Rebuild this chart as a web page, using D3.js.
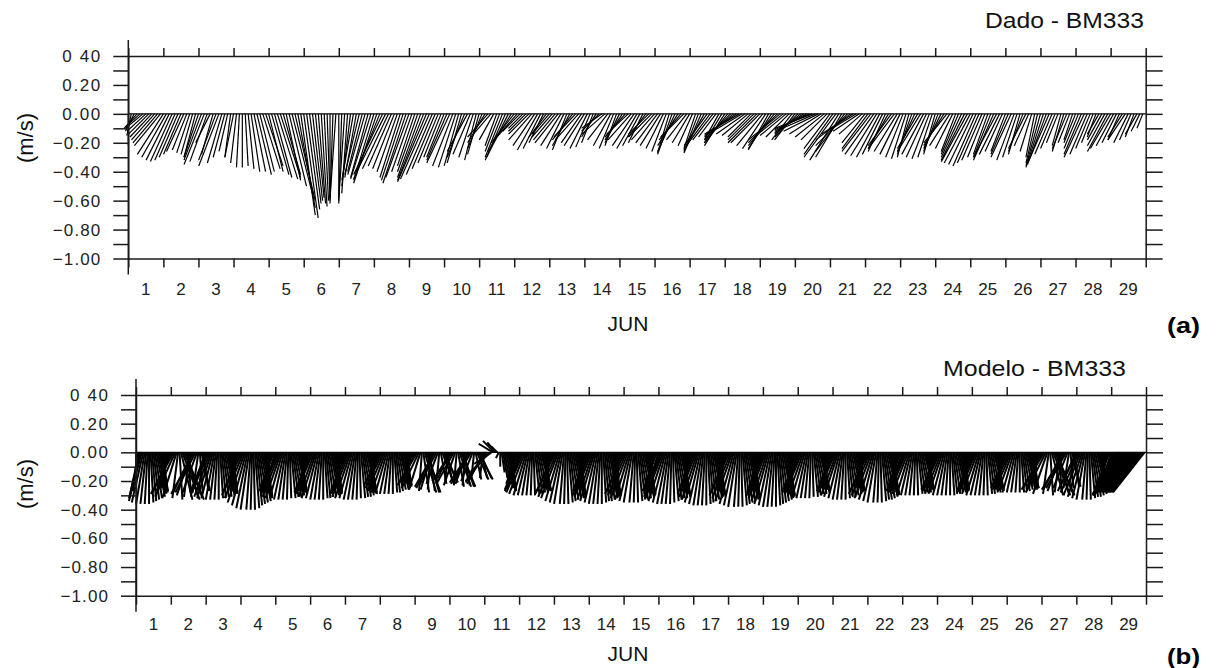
<!DOCTYPE html>
<html><head><meta charset="utf-8">
<script src="https://cdn.jsdelivr.net/npm/d3@7"></script>
<style>body{margin:0;background:#fff}svg{display:block}</style>
</head><body><svg id="c" width="1217" height="668"></svg>
<script>
// ---------------- DATA ----------------
const dayLabels = d3.range(1, 30).map(String);            // 1..29
const yTickValues = [0.4, 0.2, 0, -0.2, -0.4, -0.6, -0.8, -1.0];
const yTickLabels = ["0 40", "0.20", "0.00", "\u22120.20", "\u22120.40", "\u22120.60", "\u22120.80", "\u22121.00"];
const monthLabel = "JUN";
const unitLabel = "(m/s)";
const titles = ["Dado - BM333", "Modelo - BM333"];
const panelTags = ["(a)", "(b)"];

// Observed (Dado) current components, cm/s, every 2 h from 1 Jun 00h
const dadoU = [
0,-3,-6,-9,-10,-12,-13,-14,-15,-16,-17,-18,
-18,-17,-16,-15,-14,-13,-12,-12,-10,-9,-8,-8,
-10,-12,-14,-12,-10,-8,-12,-14,-10,-8,-6,-4,
-6,-4,-2,0,2,4,6,8,10,10,12,12,
10,12,12,14,14,12,10,12,14,14,12,10,
10,9,8,7,6,5,4,3,2,0,-2,-4,
0,-2,-4,-4,-6,-8,-8,-10,-10,-12,-12,-14,
-14,-16,-18,-20,-20,-18,-16,-15,-14,-14,-15,-16,
-16,-14,-12,-14,-16,-18,-20,-20,-18,-16,-14,-12,
-12,-14,-16,-14,-12,-10,-10,-12,-14,-12,-10,-8,
-8,-10,-12,-14,-12,-10,-8,-10,-12,-14,-15,-16,
-16,-14,-12,-10,-12,-14,-16,-15,-14,-12,-10,-12,
-12,-14,-15,-16,-14,-12,-10,-12,-14,-15,-16,-14,
-14,-12,-10,-8,-10,-12,-14,-16,-14,-12,-10,-8,
-10,-12,-14,-15,-16,-15,-14,-12,-10,-12,-14,-16,
-16,-15,-14,-12,-10,-8,-10,-12,-14,-15,-16,-14,
-12,-10,-8,-10,-12,-14,-16,-15,-14,-12,-10,-12,
-14,-16,-18,-20,-22,-24,-22,-20,-18,-16,-18,-20,
-20,-18,-16,-14,-16,-18,-20,-22,-20,-18,-16,-14,
-14,-16,-18,-20,-22,-24,-26,-25,-24,-22,-20,-18,
-18,-20,-22,-20,-18,-20,-22,-24,-22,-20,-18,-16,
-16,-18,-20,-20,-18,-16,-14,-12,-14,-16,-18,-16,
-14,-12,-10,-8,-10,-12,-14,-16,-15,-14,-12,-10,
-8,-10,-12,-14,-16,-14,-12,-10,-12,-14,-16,-18,
-18,-17,-16,-15,-14,-12,-10,-12,-14,-16,-14,-12,
-10,-12,-14,-12,-10,-8,-10,-12,-10,-8,-6,-8,
-10,-12,-13,-14,-12,-10,-8,-6,-8,-10,-8,-6,
-8,-10,-12,-14,-12,-10,-8,-6,-8,-10,-12,-14,
-14,-12,-10,-8,-10,-12,-10,-8,-6,-8,-6,-4
];
const dadoV = [
-22,-15,-12,-10,-9,-10,-12,-14,-16,-18,-20,-22,
-28,-30,-32,-33,-32,-30,-28,-26,-25,-27,-28,-30,
-30,-32,-35,-33,-20,-28,-32,-36,-34,-30,-26,-30,
-30,-34,-37,-37,-36,-38,-40,-40,-42,-40,-38,-36,
-40,-42,-44,-45,-44,-42,-46,-50,-55,-60,-65,-70,
-72,-66,-62,-60,-58,-62,-64,-60,-58,-62,-60,-58,
-62,-60,-58,-55,-50,-46,-44,-42,-40,-42,-44,-45,
-46,-48,-45,-42,-40,-38,-36,-38,-40,-44,-46,-48,
-44,-40,-36,-40,-44,-46,-47,-45,-42,-38,-34,-30,
-30,-32,-34,-36,-37,-36,-34,-30,-26,-28,-30,-32,
-28,-24,-20,-16,-14,-18,-22,-26,-30,-32,-30,-26,
-20,-16,-12,-10,-12,-14,-18,-22,-25,-24,-20,-16,
-14,-16,-18,-20,-22,-24,-25,-22,-18,-16,-18,-20,
-22,-24,-23,-20,-16,-12,-10,-14,-18,-22,-24,-22,
-20,-18,-16,-14,-18,-22,-24,-22,-20,-16,-14,-16,
-18,-20,-22,-24,-26,-27,-28,-26,-22,-18,-16,-18,
-20,-22,-24,-26,-27,-25,-22,-20,-18,-16,-18,-20,
-22,-20,-18,-16,-15,-14,-13,-14,-15,-16,-18,-20,
-20,-22,-24,-25,-24,-22,-20,-18,-16,-15,-16,-18,
-18,-16,-14,-13,-12,-11,-10,-11,-12,-14,-16,-18,
-24,-28,-30,-32,-30,-26,-22,-18,-14,-12,-12,-14,
-20,-24,-26,-28,-29,-30,-28,-26,-24,-22,-24,-26,
-28,-30,-31,-30,-28,-26,-24,-26,-28,-30,-31,-30,
-28,-26,-24,-22,-20,-22,-24,-26,-28,-30,-32,-33,
-34,-35,-36,-34,-32,-30,-28,-30,-32,-30,-28,-26,
-26,-28,-30,-32,-30,-28,-26,-24,-22,-26,-30,-34,
-36,-37,-35,-32,-28,-24,-20,-22,-26,-24,-20,-18,
-20,-24,-28,-30,-28,-24,-20,-16,-14,-18,-22,-26,
-24,-22,-20,-18,-16,-18,-20,-18,-16,-14,-12,-10
];

// Model (Modelo) current components, cm/s, hourly from 1 Jun 00h
const modeloU = [
0,-3,-6,-8,-9,-8,-6,-4,-2,0,2,3,4,5,6,6,6,5,4,2,0,-2,-5,-8,
-10,-14,-16,-14,-10,-4,2,8,12,14,12,8,2,-4,-10,-14,-16,-14,-10,-4,2,6,4,-4,
-10,-12,-12,-11,-10,-8,-6,-4,-2,0,2,3,4,5,6,6,6,5,4,2,0,-2,-5,-8,
-12,-14,-13,-12,-10,-8,-6,-3,-1,1,3,4,5,6,7,7,6,5,3,1,-2,-5,-8,-10,
-8,-11,-12,-12,-11,-9,-7,-5,-3,-1,1,3,4,5,6,7,6,5,3,1,-1,-3,-5,-7,
-10,-12,-12,-11,-10,-8,-6,-4,-2,0,2,3,4,5,6,6,6,5,4,2,0,-2,-5,-8,
-8,-11,-12,-12,-11,-9,-7,-5,-3,-1,1,3,4,5,6,7,6,5,3,1,-1,-3,-5,-7,
-10,-12,-12,-11,-10,-8,-6,-4,-2,0,2,3,4,5,6,6,6,5,4,2,0,-2,-5,-8,
-8,-12,-14,-12,-8,-2,4,8,10,8,4,-2,-8,-12,-14,-12,-8,-2,4,8,10,8,4,-2,
-8,-12,-14,-12,-8,-2,4,8,10,8,4,-2,-8,-12,-14,-12,-8,-2,4,8,10,8,4,-2,
-12,-14,-15,-15,-14,-12,-10,-8,-6,-4,-2,0,2,3,4,5,6,5,4,2,0,-2,-5,-8,
-8,-11,-12,-12,-11,-9,-7,-5,-3,-1,1,3,4,5,6,7,6,5,3,1,-1,-3,-5,-7,
-12,-14,-13,-12,-10,-8,-6,-3,-1,1,3,4,5,6,7,7,6,5,3,1,-2,-5,-8,-10,
-10,-12,-12,-11,-10,-8,-6,-4,-2,0,2,3,4,5,6,6,6,5,4,2,0,-2,-5,-8,
-12,-14,-13,-12,-10,-8,-6,-3,-1,1,3,4,5,6,7,7,6,5,3,1,-2,-5,-8,-10,
-8,-11,-12,-12,-11,-9,-7,-5,-3,-1,1,3,4,5,6,7,6,5,3,1,-1,-3,-5,-7,
-10,-12,-12,-11,-10,-8,-6,-4,-2,0,2,3,4,5,6,6,6,5,4,2,0,-2,-5,-8,
-12,-14,-13,-12,-10,-8,-6,-3,-1,1,3,4,5,6,7,7,6,5,3,1,-2,-5,-8,-10,
-10,-12,-12,-11,-10,-8,-6,-4,-2,0,2,3,4,5,6,6,6,5,4,2,0,-2,-5,-8,
-8,-11,-12,-12,-11,-9,-7,-5,-3,-1,1,3,4,5,6,7,6,5,3,1,-1,-3,-5,-7,
-10,-12,-12,-11,-10,-8,-6,-4,-2,0,2,3,4,5,6,6,6,5,4,2,0,-2,-5,-8,
-12,-14,-13,-12,-10,-8,-6,-3,-1,1,3,4,5,6,7,7,6,5,3,1,-2,-5,-8,-10,
-8,-11,-12,-12,-11,-9,-7,-5,-3,-1,1,3,4,5,6,7,6,5,3,1,-1,-3,-5,-7,
-10,-12,-12,-11,-10,-8,-6,-4,-2,0,2,3,4,5,6,6,6,5,4,2,0,-2,-5,-8,
-8,-11,-12,-12,-11,-9,-7,-5,-3,-1,1,3,4,5,6,7,6,5,3,1,-1,-3,-5,-7,
-10,-12,-12,-11,-10,-8,-6,-4,-2,0,2,3,4,5,6,6,6,5,4,2,0,-2,-5,-8,
-10,-14,-16,-14,-10,-4,2,8,12,14,12,8,2,-4,-10,-14,-16,-14,-10,-4,2,6,4,-4,
-12,-14,-13,-12,-10,-8,-6,-3,-1,1,3,4,5,6,7,7,6,5,3,1,-2,-5,-8,-10,
-8,-10,-12,-14,-16,-18,-19,-20,-20,-21,-21,-22,-22,-22,-22,-22,-22,-22,-22,-22,-22,-22,-22,-22
];
const modeloV = [
-25,-27,-29,-32,-34,-35,-36,-36,-36,-36,-35,-34,-33,-32,-31,-29,-28,-27,-27,-26,-26,-25,-25,-25,
-27,-28,-29,-31,-32,-32,-33,-33,-33,-33,-32,-32,-31,-31,-30,-29,-29,-28,-28,-28,-28,-27,-27,-27,
-27,-28,-29,-31,-32,-32,-33,-33,-33,-33,-32,-32,-31,-31,-30,-29,-29,-28,-28,-28,-28,-27,-27,-27,
-27,-30,-32,-35,-37,-39,-40,-40,-40,-40,-39,-37,-36,-35,-34,-32,-31,-30,-30,-28,-28,-27,-27,-27,
-27,-28,-29,-31,-32,-32,-33,-33,-33,-33,-32,-32,-31,-31,-30,-29,-29,-28,-28,-28,-28,-27,-27,-27,
-27,-28,-29,-31,-32,-32,-33,-33,-33,-33,-32,-32,-31,-31,-30,-29,-29,-28,-28,-28,-28,-27,-27,-27,
-27,-28,-29,-31,-32,-32,-33,-33,-33,-33,-32,-32,-31,-31,-30,-29,-29,-28,-28,-28,-28,-27,-27,-27,
-22,-23,-25,-26,-28,-28,-29,-29,-29,-29,-28,-28,-27,-26,-26,-25,-24,-23,-23,-23,-23,-22,-22,-22,
-20,-22,-23,-25,-26,-27,-28,-28,-28,-28,-27,-26,-26,-25,-24,-23,-22,-22,-22,-21,-21,-20,-20,-20,
-18,-19,-20,-22,-23,-23,-24,-24,-24,-24,-23,-23,-22,-22,-21,-20,-20,-19,-19,-19,-19,-18,-18,-18,
-22,-21,-20,-18,-14,-8,6,8,7,4,-4,-10,-14,-18,-22,-25,-27,-27,-26,-25,-24,-22,-22,-22,
-25,-26,-27,-28,-29,-30,-30,-30,-30,-30,-30,-29,-29,-28,-28,-27,-27,-26,-26,-26,-26,-25,-25,-25,
-27,-29,-31,-32,-34,-35,-36,-36,-36,-36,-35,-34,-33,-32,-32,-31,-30,-29,-29,-28,-28,-27,-27,-27,
-28,-30,-31,-33,-34,-35,-36,-36,-36,-36,-35,-34,-34,-33,-32,-31,-30,-30,-30,-29,-29,-28,-28,-28,
-27,-29,-30,-32,-33,-34,-35,-35,-35,-35,-34,-33,-33,-32,-31,-30,-29,-29,-29,-28,-28,-27,-27,-27,
-27,-29,-31,-32,-34,-35,-36,-36,-36,-36,-35,-34,-33,-32,-32,-31,-30,-29,-29,-28,-28,-27,-27,-27,
-27,-29,-31,-33,-35,-36,-37,-37,-37,-37,-36,-35,-34,-33,-32,-31,-30,-29,-29,-28,-28,-27,-27,-27,
-28,-30,-32,-34,-36,-37,-38,-38,-38,-38,-37,-36,-35,-34,-33,-32,-31,-30,-30,-29,-29,-28,-28,-28,
-28,-30,-32,-34,-36,-37,-38,-38,-38,-38,-37,-36,-35,-34,-33,-32,-31,-30,-30,-29,-29,-28,-28,-28,
-25,-26,-28,-29,-31,-31,-32,-32,-32,-32,-31,-31,-30,-29,-29,-28,-27,-26,-26,-26,-26,-25,-25,-25,
-25,-27,-28,-30,-31,-32,-33,-33,-33,-33,-32,-31,-31,-30,-29,-28,-27,-27,-27,-26,-26,-25,-25,-25,
-27,-29,-30,-32,-33,-34,-35,-35,-35,-35,-34,-33,-33,-32,-31,-30,-29,-29,-29,-28,-28,-27,-27,-27,
-25,-26,-27,-28,-29,-30,-30,-30,-30,-30,-30,-29,-29,-28,-28,-27,-27,-26,-26,-26,-26,-25,-25,-25,
-25,-26,-27,-28,-29,-30,-30,-30,-30,-30,-30,-29,-29,-28,-28,-27,-27,-26,-26,-26,-26,-25,-25,-25,
-25,-26,-27,-28,-29,-30,-30,-30,-30,-30,-30,-29,-29,-28,-28,-27,-27,-26,-26,-26,-26,-25,-25,-25,
-24,-25,-26,-26,-27,-28,-28,-28,-28,-28,-28,-27,-27,-26,-26,-26,-25,-25,-25,-24,-24,-24,-24,-24,
-24,-25,-26,-28,-29,-29,-30,-30,-30,-30,-29,-29,-28,-28,-27,-26,-26,-25,-25,-25,-25,-24,-24,-24,
-25,-27,-28,-30,-31,-32,-33,-33,-33,-33,-32,-31,-31,-30,-29,-28,-27,-27,-27,-26,-26,-25,-25,-25,
-25,-27,-28,-29,-30,-30,-30,-29,-29,-29,-28,-28,-28,-28,-28,-28,-28,-28,-28,-28,-28,-28,-28,-28
];

// ---------------- DRAWING ----------------
const svg = d3.select("#c");
const FONT = "'Liberation Sans', Arial, Helvetica, sans-serif";

function drawPanel(P) {
  const x = d3.scaleLinear().domain([1, 30]).range([P.x0, P.x1]);
  const y = d3.scaleLinear().domain([-1, 0.4]).range([P.yb, P.yt]);
  const k = (P.yb - P.yt) / 1.4;               // px per m/s (isotropic)
  const g = svg.append("g");
  const minor = d3.range(-10, 5).map(d => d / 10);
  const dayTicks = d3.range(1, 31);

  // sticks
  const n = P.u.length;
  g.append("g").selectAll("line").data(d3.range(n)).join("line")
    .attr("x1", i => x(1 + i * P.step / 24))
    .attr("y1", y(0))
    .attr("x2", i => x(1 + i * P.step / 24) + P.u[i] / 100 * k)
    .attr("y2", i => y(P.v[i] / 100))
    .attr("stroke", "#000").attr("stroke-width", P.sw)
    .attr("stroke-linecap", "butt");

  // zero line
  g.append("line").attr("x1", x(1)).attr("x2", x(30)).attr("y1", y(0)).attr("y2", y(0))
    .attr("stroke", "#000").attr("stroke-width", 1.2);

  const axes = g.append("g");
  axes.append("g").attr("transform", `translate(${P.x0},0)`)
    .call(d3.axisLeft(y).tickValues(minor).tickSize(15).tickSizeOuter(0).tickFormat(""));
  axes.append("g").attr("transform", `translate(${P.x1},0)`)
    .call(d3.axisRight(y).tickValues(minor).tickSize(17).tickSizeOuter(0).tickFormat(""));
  axes.append("g").attr("transform", `translate(0,${P.yt})`)
    .call(d3.axisTop(x).tickValues(dayTicks).tickSize(8).tickSizeOuter(0).tickFormat(""));
  axes.append("g").attr("transform", `translate(0,${P.yb})`)
    .call(d3.axisBottom(x).tickValues(dayTicks).tickSize(9).tickSizeOuter(0).tickFormat(""));
  axes.append("line").attr("x1", P.x0).attr("x2", P.x0)
    .attr("y1", P.yt - 16).attr("y2", P.yb + 16);
  axes.selectAll(".domain, .tick line, line").attr("stroke", "#1a1a1a").attr("stroke-width", 1.5);

  // y labels
  g.append("g").selectAll("text").data(yTickValues).join("text")
    .attr("x", P.x0 - 28).attr("y", d => y(d)).attr("dy", "0.36em")
    .attr("text-anchor", "end").attr("font-family", FONT).attr("font-size", 17)
    .attr("fill", "#222")
    .attr("textLength", (d, i) => yTickLabels[i].length * 9.5)
    .text((d, i) => yTickLabels[i]);

  // day labels
  g.append("g").selectAll("text").data(dayLabels).join("text")
    .attr("x", d => x(+d + 0.5)).attr("y", P.labY)
    .attr("text-anchor", "middle").attr("font-family", FONT).attr("font-size", 17)
    .attr("fill", "#222").text(d => d);

  // month label
  g.append("text").attr("x", P.junX).attr("y", P.junY).attr("text-anchor", "middle")
    .attr("font-family", FONT).attr("font-size", 21).attr("fill", "#111").text(monthLabel);

  // unit label
  g.append("text").attr("transform", `translate(${P.unitX},${P.unitY}) rotate(-90)`)
    .attr("text-anchor", "middle").attr("dy", "0.35em")
    .attr("font-family", FONT).attr("font-size", 22).attr("fill", "#111").text(unitLabel);

  // title
  g.append("text").attr("x", P.titleX1 - P.titleW).attr("y", P.titleY)
    .attr("font-family", FONT).attr("font-size", 22).attr("fill", "#111")
    .attr("textLength", P.titleW).attr("lengthAdjust", "spacingAndGlyphs").text(P.title);

  // panel tag
  g.append("text").attr("x", 1167).attr("y", P.tagY)
    .attr("font-family", FONT).attr("font-size", 22).attr("font-weight", "bold").attr("fill", "#000")
    .attr("textLength", 33).attr("lengthAdjust", "spacingAndGlyphs").text(P.tag);
}

drawPanel({ x0: 128.3, x1: 1145.7, yt: 56, yb: 258.5, u: dadoU, v: dadoV, step: 2, sw: 1.2,
  labY: 295, junX: 628, junY: 331, unitX: 25, unitY: 138,
  title: titles[0], titleX1: 1144, titleW: 159, titleY: 28, tag: panelTags[0], tagY: 333 });
drawPanel({ x0: 136, x1: 1146, yt: 395, yb: 595.7, u: modeloU, v: modeloV, step: 1, sw: 2.0,
  labY: 630, junX: 628, junY: 661, unitX: 25, unitY: 484,
  title: titles[1], titleX1: 1126, titleW: 183, titleY: 376, tag: panelTags[1], tagY: 664 });
</script></body></html>
